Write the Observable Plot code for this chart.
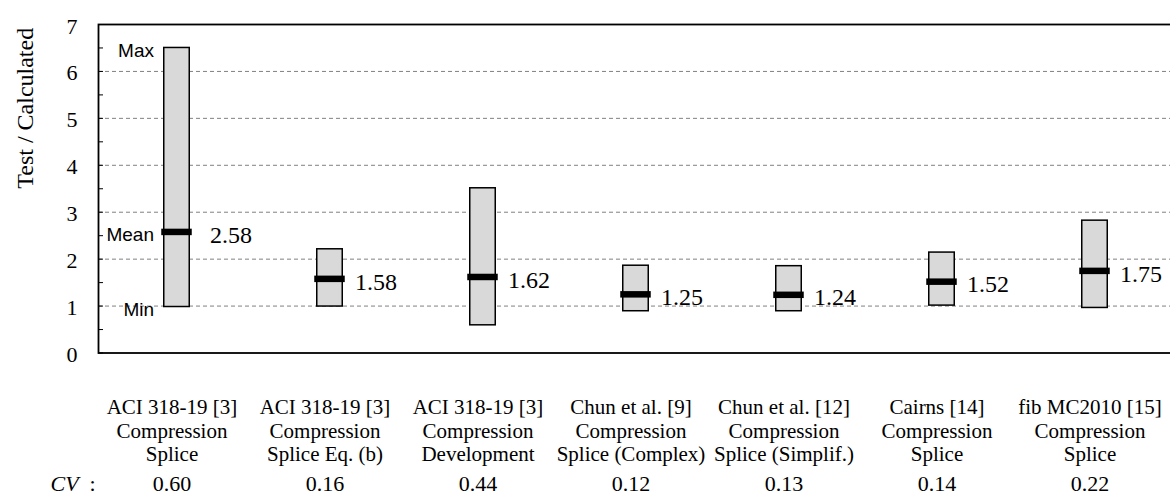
<!DOCTYPE html>
<html>
<head>
<meta charset="utf-8">
<script src="https://cdn.jsdelivr.net/npm/d3@7"></script>
<script src="https://cdn.jsdelivr.net/npm/@observablehq/plot@0.6"></script>
<style>
  html, body { margin: 0; padding: 0; background: white; overflow: hidden; }
  svg { overflow: hidden; }
</style>
</head>
<body>
<div id="chart"></div>
<script>
const categories = [
  "ACI 318-19 [3]\nCompression\nSplice",
  "ACI 318-19 [3]\nCompression\nSplice Eq. (b)",
  "ACI 318-19 [3]\nCompression\nDevelopment",
  "Chun et al. [9]\nCompression\nSplice (Complex)",
  "Chun et al. [12]\nCompression\nSplice (Simplif.)",
  "Cairns [14]\nCompression\nSplice",
  "fib MC2010 [15]\nCompression\nSplice"
];
const maxValues  = [6.50, 2.21, 3.51, 1.86, 1.85, 2.14, 2.82];
const minValues  = [0.98, 0.99, 0.59, 0.89, 0.89, 1.01, 0.96];
const meanValues = [2.58, 1.58, 1.62, 1.25, 1.24, 1.52, 1.75];
const cvValues   = ["0.60", "0.16", "0.44", "0.12", "0.13", "0.14", "0.22"];
const yTicks = [0, 1, 2, 3, 4, 5, 6, 7];
const yMinorTicks = [0.5, 1.5, 2.5, 3.5, 4.5, 5.5, 6.5];
const gridValues = [1, 2, 3, 4, 5, 6];
const markerNames = ["Max", "Mean", "Min"];

const data = categories.map((cat, i) => ({
  cat, max: maxValues[i], min: minValues[i], mean: meanValues[i], cv: cvValues[i]
}));
const markers = [
  {name: markerNames[0], v: maxValues[0]},
  {name: markerNames[1], v: meanValues[0]},
  {name: markerNames[2], v: minValues[0]}
];

const SERIF = "'Liberation Serif', 'Times New Roman', serif";
const SANS = "'Liberation Sans', Arial, sans-serif";
const W = 1170, H = 498, ML = 98, MR = -2.5, MT = 24, MB = 145.5;
const innerW = W - ML - MR;

const chart = Plot.plot({
  width: W,
  height: H,
  marginLeft: ML,
  marginRight: MR,
  marginTop: MT,
  marginBottom: MB,
  style: {fontFamily: SERIF, background: "white", color: "black"},
  x: {domain: categories, padding: 0, axis: null},
  y: {domain: [0, 7], axis: null},
  marks: [
    Plot.ruleY(gridValues, {stroke: "#808080", strokeWidth: 1, strokeDasharray: "4,3"}),
    Plot.frame({stroke: "black", strokeWidth: 1.8}),
    Plot.tickY(yTicks, {y: d => d, stroke: "black", strokeWidth: 1, insetRight: innerW - 5}),
    Plot.tickY(yMinorTicks, {y: d => d, stroke: "black", strokeWidth: 1, insetRight: innerW - 5}),
    Plot.axisY({ticks: yTicks, tickSize: 0, tickPadding: 21, fontSize: 22, fontFamily: SERIF, dy: 2, tickFormat: d => String(d), label: null}),
    Plot.barY(data, {x: "cat", y1: "min", y2: "max", fill: "#d9d9d9", stroke: "black", strokeWidth: 1.5, insetLeft: 63.75, insetRight: 63.75}),
    Plot.tickY(data, {x: "cat", y: "mean", stroke: "black", strokeWidth: 6.5, insetLeft: 61.25, insetRight: 61.25}),
    Plot.text(data.slice(0, 1), {x: "cat", y: "mean", text: d => d.mean.toFixed(2), textAnchor: "start", lineAnchor: "middle", dx: 33, dy: 3, fontSize: 24, fontFamily: SERIF}),
    Plot.text(data.slice(1), {x: "cat", y: "mean", text: d => d.mean.toFixed(2), textAnchor: "start", lineAnchor: "middle", dx: 25, dy: 3, fontSize: 24, fontFamily: SERIF}),
    Plot.text(markers, {x: () => categories[0], y: "v", text: "name", textAnchor: "end", lineAnchor: "middle", dx: -23, dy: 2.5, fontSize: 19, fontFamily: SANS}),
    Plot.text(["Test / Calculated"], {frameAnchor: "left", rotate: -90, lineAnchor: "middle", dx: -73, text: d => d, fontSize: 24, fontFamily: SERIF}),
    Plot.text(data, {x: "cat", frameAnchor: "bottom", text: "cat", lineAnchor: "top", dx: -5, dy: 45, fontSize: 21, lineHeight: 1.1, fontFamily: SERIF}),
    Plot.text(data, {x: "cat", frameAnchor: "bottom", text: "cv", lineAnchor: "middle", dx: -5, dy: 131, fontSize: 22, fontFamily: SERIF}),
    Plot.text(["CV"], {frameAnchor: "bottom-left", text: d => d, textAnchor: "start", lineAnchor: "middle", dx: -48, dy: 131, fontSize: 22, fontStyle: "italic", fontFamily: SERIF}),
    Plot.text([":"], {frameAnchor: "bottom-left", text: d => d, textAnchor: "start", lineAnchor: "middle", dx: -9, dy: 131, fontSize: 22, fontFamily: SERIF})
  ]
});
document.getElementById("chart").appendChild(chart);
</script>
</body>
</html>
